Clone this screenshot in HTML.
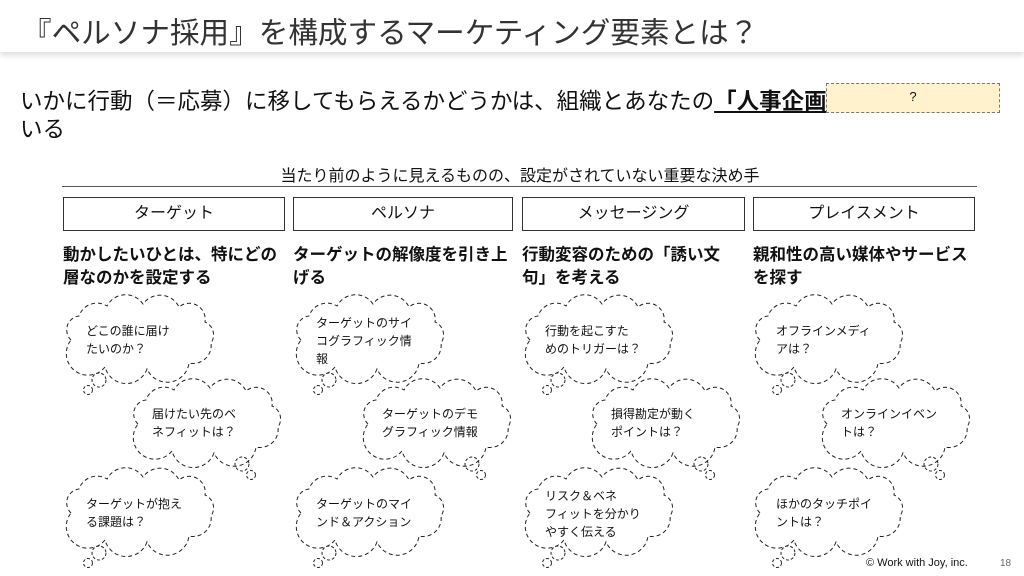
<!DOCTYPE html>
<html><head><meta charset="utf-8"><style>
body{margin:0;width:1024px;height:576px;background:#fff;position:relative;overflow:hidden;font-family:"Liberation Sans","Noto Sans CJK JP",sans-serif;color:#111}
.hdr{position:absolute;left:0;top:0;width:1024px;height:52px;background:#fff;box-shadow:0 3px 6px rgba(0,0,0,.15)}
.t{position:absolute;white-space:nowrap}
.box{position:absolute;top:197px;height:34px;border:1px solid #333;box-sizing:border-box;text-align:center;line-height:32px;font-size:16px}
.h{position:absolute;top:244px;font-size:16.5px;font-weight:bold;line-height:23px;width:215px}
.c{position:absolute;font-size:12px;line-height:18px;white-space:nowrap}
</style></head><body>
<div class="hdr"></div>
<div class="t" style="left:22px;top:9px;font-size:29.6px;color:#333">『ペルソナ採用』を構成するマーケティング要素とは？</div>
<div class="t" style="left:20px;top:84px;font-size:22.5px">いかに行動（＝応募）に移してもらえるかどうかは、組織とあなたの<b style="text-decoration:underline">「人事企画</b></div>
<div class="t" style="left:20px;top:112px;font-size:22.5px">いる</div>
<div style="position:absolute;left:826px;top:83px;width:174px;height:30px;background:#fff2cc;border:1px dashed #777;box-sizing:border-box;text-align:center;font-size:13px;line-height:26px">?</div>
<div class="t" style="left:0;width:1040px;text-align:center;top:162px;font-size:16px">当たり前のように見えるものの、設定がされていない重要な決め手</div>
<div style="position:absolute;left:62px;top:186px;width:915px;height:1px;background:#555"></div>
<div class="box" style="left:63px;width:222px">ターゲット</div>
<div class="box" style="left:293px;width:220px">ペルソナ</div>
<div class="box" style="left:522px;width:223px">メッセージング</div>
<div class="box" style="left:753px;width:222px">プレイスメント</div>
<div class="h" style="left:63px">動かしたいひとは、特にどの層なのかを設定する</div>
<div class="h" style="left:293px">ターゲットの解像度を引き上げる</div>
<div class="h" style="left:522px">行動変容のための「誘い文句」を考える</div>
<div class="h" style="left:753px">親和性の高い媒体やサービスを探す</div>
<svg width="1024" height="576" style="position:absolute;left:0;top:0">
<defs>
<g id="cl" fill="none" stroke="#222" stroke-width="1" stroke-dasharray="4,3">
<path d="M8,40 A14,14 0 0 1 16,16 A19,19 0 0 1 44,6 A21,21 0 0 1 80,4 A21,21 0 0 1 116,7 A16,16 0 0 1 142,22 A14,14 0 0 1 148,43 A18,18 0 0 1 126,63 A22,22 0 0 1 84,69 A22,22 0 0 1 42,67 A17,17 0 0 1 8,40 Z"/>
</g>
<g id="tl" fill="none" stroke="#222" stroke-dasharray="3,2"><circle cx="36" cy="80" r="7"/><circle cx="25" cy="90" r="4.5"/></g>
<g id="tr" fill="none" stroke="#222" stroke-dasharray="3,2"><circle cx="112" cy="80" r="7"/><circle cx="121" cy="91" r="4.5"/></g>
</defs>
<g transform="translate(63,300)"><use href="#cl"/><use href="#tl"/></g>
<g transform="translate(130,384)"><use href="#cl"/><use href="#tr"/></g>
<g transform="translate(63,473)"><use href="#cl"/><use href="#tl"/></g>
<g transform="translate(293,300)"><use href="#cl"/><use href="#tl"/></g>
<g transform="translate(360,384)"><use href="#cl"/><use href="#tr"/></g>
<g transform="translate(293,473)"><use href="#cl"/><use href="#tl"/></g>
<g transform="translate(522,300)"><use href="#cl"/><use href="#tl"/></g>
<g transform="translate(589,384)"><use href="#cl"/><use href="#tr"/></g>
<g transform="translate(522,473)"><use href="#cl"/><use href="#tl"/></g>
<g transform="translate(752,300)"><use href="#cl"/><use href="#tl"/></g>
<g transform="translate(819,384)"><use href="#cl"/><use href="#tr"/></g>
<g transform="translate(752,473)"><use href="#cl"/><use href="#tl"/></g>
</svg>
<div class="c" style="left:86px;top:322px">どこの誰に届け<br>たいのか？</div>
<div class="c" style="left:152px;top:405px">届けたい先のベ<br>ネフィットは？</div>
<div class="c" style="left:86px;top:495px">ターゲットが抱え<br>る課題は？</div>
<div class="c" style="left:316px;top:314px">ターゲットのサイ<br>コグラフィック情<br>報</div>
<div class="c" style="left:382px;top:405px">ターゲットのデモ<br>グラフィック情報</div>
<div class="c" style="left:316px;top:495px">ターゲットのマイ<br>ンド＆アクション</div>
<div class="c" style="left:545px;top:322px">行動を起こすた<br>めのトリガーは？</div>
<div class="c" style="left:611px;top:405px">損得勘定が動く<br>ポイントは？</div>
<div class="c" style="left:545px;top:487px">リスク＆ベネ<br>フィットを分かり<br>やすく伝える</div>
<div class="c" style="left:776px;top:322px">オフラインメディ<br>アは？</div>
<div class="c" style="left:841px;top:405px">オンラインイベン<br>トは？</div>
<div class="c" style="left:776px;top:495px">ほかのタッチポイ<br>ントは？</div>
<div class="t" style="left:866px;top:557px;font-size:11px">© Work with Joy, inc.</div>
<div class="t" style="left:1000px;top:558px;font-size:10px;color:#666">18</div>
</body></html>
